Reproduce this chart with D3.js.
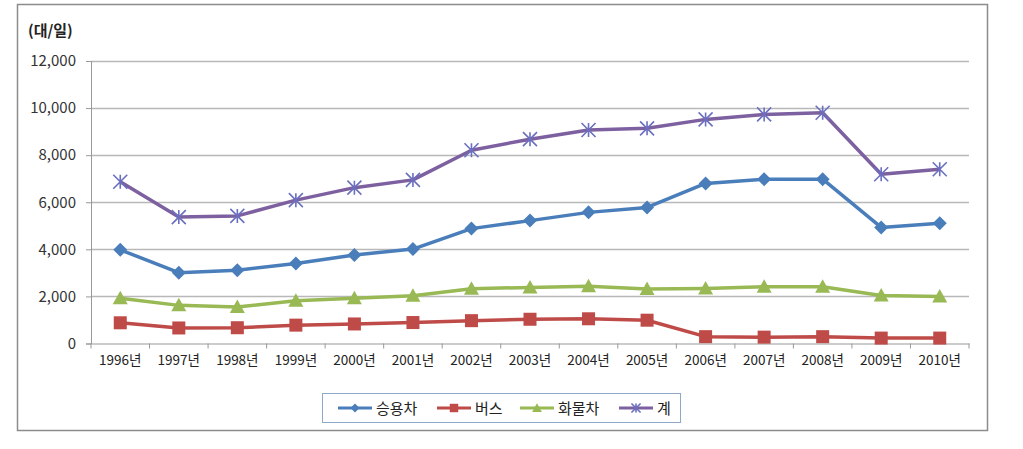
<!DOCTYPE html>
<html><head><meta charset="utf-8">
<script src="https://cdn.jsdelivr.net/npm/d3@7"></script>
<style>body{margin:0;background:#fff;} text{font-family:"Noto Sans CJK KR","Noto Sans",sans-serif;}</style>
</head><body>
<svg id="c" width="1023" height="449"></svg>
<script>
const years = ["1996년","1997년","1998년","1999년","2000년","2001년","2002년","2003년","2004년","2005년","2006년","2007년","2008년","2009년","2010년"];
const passenger = [3980,3010,3110,3400,3760,4010,4880,5220,5570,5780,6800,6980,6980,4930,5110];
const bus = [880,660,670,780,830,890,970,1030,1050,990,290,270,290,230,230];
const truck = [1920,1620,1550,1820,1920,2030,2330,2380,2430,2320,2340,2410,2410,2040,2000];
const total = [6870,5370,5420,6090,6620,6950,8210,8680,9070,9140,9520,9730,9800,7190,7400];
const yTicks = [0,2000,4000,6000,8000,10000,12000];
const seriesNames = ["승용차","버스","화물차","계"];
const unitLabel = "(대/일)";

const series = [
  {name: seriesNames[0], values: passenger, color: "#4A7EBB", marker: "diamond", mcolor:"#4A7EBB"},
  {name: seriesNames[1], values: bus, color: "#BE4B48", marker: "square", mcolor:"#BE4B48"},
  {name: seriesNames[2], values: truck, color: "#98B954", marker: "triangle", mcolor:"#98B954"},
  {name: seriesNames[3], values: total, color: "#7D60A0", marker: "star", mcolor:"#6b6fbf"}
];

const svg = d3.select("#c");
svg.append("rect").attr("x",17.5).attr("y",4.5).attr("width",970).attr("height",426)
  .attr("fill","#fff").attr("stroke","#8c8c8c").attr("stroke-width",1.5);

const x0 = 91, x1 = 969, yTop = 61, yBot = 343.5;
const x = d3.scaleBand().domain(years).range([x0,x1]).padding(0);
const y = d3.scaleLinear().domain([0,12000]).range([yBot,yTop]);

svg.append("g").selectAll("line").data(yTicks.filter(d=>d>0)).join("line")
  .attr("x1",x0).attr("x2",x1).attr("y1",d=>Math.round(y(d))+0.5).attr("y2",d=>Math.round(y(d))+0.5)
  .attr("stroke","#b8b8b8").attr("stroke-width",1.5);

const yAxis = d3.axisLeft(y).tickValues(yTicks).tickSize(5).tickPadding(10).tickFormat(d3.format(","));
const gy = svg.append("g").attr("transform",`translate(${x0},0)`).call(yAxis);
gy.select(".domain").attr("stroke","#999");
gy.selectAll(".tick line").attr("stroke","#999");
gy.selectAll("text").attr("font-size",15).attr("fill","#333");

const xAxis = d3.axisBottom(x).tickSize(0).tickPadding(12);
const gx = svg.append("g").attr("transform",`translate(0,${yBot})`).call(xAxis);
gx.select(".domain").attr("stroke","#999");
gx.selectAll("text").attr("font-size",13.5).attr("fill","#222");
svg.append("g").selectAll("line").data(years.concat(["_end"])).join("line")
  .attr("x1",(d,i)=>x0 + i*x.step()).attr("x2",(d,i)=>x0 + i*x.step())
  .attr("y1",yBot).attr("y2",yBot+5).attr("stroke","#999");

svg.append("text").attr("x",28).attr("y",36).attr("font-size",15).attr("font-weight","bold")
  .attr("fill","#222").text(unitLabel);

function drawMarker(g, type, cx, cy, color, k){
  k = k || 1;
  if(type==="diamond"){
    const s=7*k;
    g.append("path").attr("d",`M${cx},${cy-s}L${cx+s},${cy}L${cx},${cy+s}L${cx-s},${cy}Z`).attr("fill",color);
  } else if(type==="square"){
    const s=6.5*k;
    g.append("rect").attr("x",cx-s).attr("y",cy-s).attr("width",2*s).attr("height",2*s).attr("fill",color);
  } else if(type==="triangle"){
    const s=7.5*k;
    g.append("path").attr("d",`M${cx},${cy-s}L${cx+s},${cy+s*0.8}L${cx-s},${cy+s*0.8}Z`).attr("fill",color);
  } else if(type==="star"){
    const s=7*k;
    g.append("path").attr("d",`M${cx-s},${cy-s}L${cx+s},${cy+s}M${cx-s},${cy+s}L${cx+s},${cy-s}M${cx},${cy-s}L${cx},${cy+s}`)
      .attr("stroke",color).attr("stroke-width",1.6).attr("fill","none");
  }
}

const line = d3.line().x((d,i)=>x(years[i])+x.bandwidth()/2).y(d=>y(d));
const plot = svg.append("g");
series.forEach(s=>{
  plot.append("path").datum(s.values).attr("d",line).attr("fill","none")
    .attr("stroke",s.color).attr("stroke-width",3.5).attr("stroke-linejoin","round");
});
series.forEach(s=>{
  const g = plot.append("g");
  s.values.forEach((v,i)=>drawMarker(g,s.marker,x(years[i])+x.bandwidth()/2,y(v),s.mcolor));
});

const lg = svg.append("g");
lg.append("rect").attr("x",322.5).attr("y",393.5).attr("width",358).attr("height",29)
  .attr("fill","#fff").attr("stroke","#8fa8c8").attr("stroke-width",1);
const legX = [338,437,520,619];
series.forEach((s,i)=>{
  const lx = legX[i], ly = 408;
  lg.append("line").attr("x1",lx).attr("x2",lx+34).attr("y1",ly).attr("y2",ly)
    .attr("stroke",s.color).attr("stroke-width",3);
  drawMarker(lg,s.marker,lx+17,ly,s.mcolor,0.65);
  lg.append("text").attr("x",lx+38).attr("y",ly+5.5).attr("font-size",15).attr("fill","#222").text(s.name);
});
</script>
</body></html>
